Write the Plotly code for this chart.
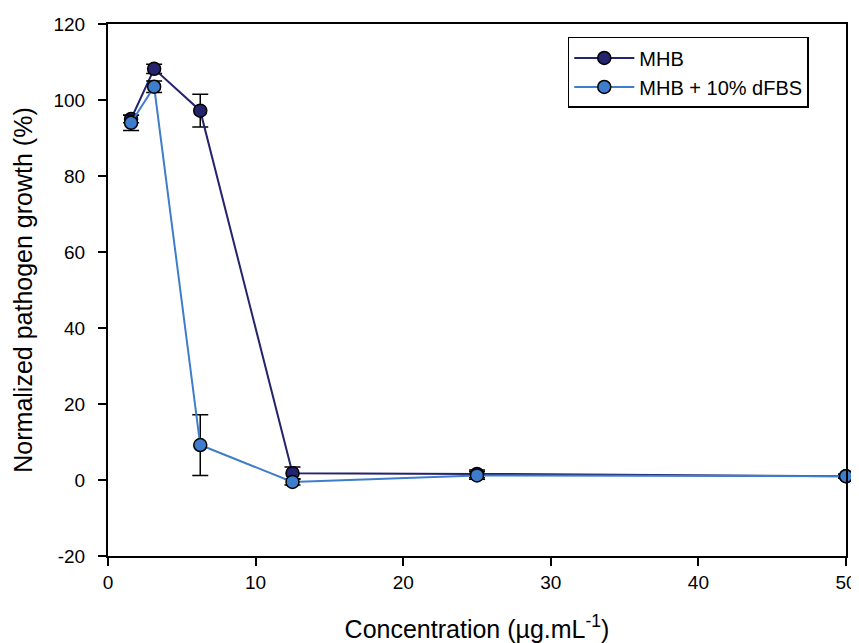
import plotly.graph_objects as go

concentracion = [1.5625, 3.125, 6.25, 12.5, 25, 50]

mhb = [95.0, 108.2, 97.2, 1.8, 1.6, 1.0]
mhb_err = [1.0, 1.2, 4.3, 1.6, 1.0, 0.5]

dfbs = [94.0, 103.5, 9.2, -0.5, 1.2, 1.0]
dfbs_err = [2.0, 1.5, 8.0, 0.8, 1.0, 0.5]

ticks_x = [0, 10, 20, 30, 40, 50]
ticks_y = [-20, 0, 20, 40, 60, 80, 100, 120]

COLOR_MHB = "#23236e"
COLOR_DFBS = "#3d7dcc"
FUENTE = "Liberation Sans, Arial, sans-serif"

# la página deja 8 px de margen en el body, se descuentan aquí
fig = go.Figure()
for nombre, y, err, color in [
    ("MHB", mhb, mhb_err, COLOR_MHB),
    ("MHB + 10% dFBS", dfbs, dfbs_err, COLOR_DFBS),
]:
    fig.add_trace(
        go.Scatter(
            x=concentracion,
            y=y,
            name=nombre,
            mode="lines+markers",
            line=dict(color=color, width=2),
            marker=dict(color=color, size=13, line=dict(color="black", width=1.5)),
            error_y=dict(type="data", array=err, visible=True,
                         color="black", thickness=1.5, width=8),
            cliponaxis=False,
        )
    )

eje = dict(
    showline=True,
    linecolor="black",
    linewidth=2,
    mirror=True,
    ticks="outside",
    ticklen=8,
    tickwidth=1.5,
    tickcolor="black",
    showgrid=False,
    zeroline=False,
    automargin=False,
    tickfont=dict(size=19, color="black", family=FUENTE),
)

fig.update_layout(
    width=851,
    height=635,
    margin=dict(l=100, r=13, t=16, b=87),
    plot_bgcolor="white",
    paper_bgcolor="white",
    font=dict(family=FUENTE, color="black"),
    showlegend=True,
    legend=dict(
        x=0.623, y=0.9756, xanchor="left", yanchor="top",
        bordercolor="black", borderwidth=1.5,
        font=dict(size=20, family=FUENTE, color="black"),
        bgcolor="white",
        itemwidth=60,
    ),
    xaxis=dict(
        eje,
        range=[0, 50],
        tickvals=ticks_x,
        ticktext=[str(t) for t in ticks_x],
        title=dict(text="Concentration (µg.mL<sup>-1</sup>)",
                   font=dict(size=25, family=FUENTE), standoff=30),
    ),
    yaxis=dict(
        eje,
        range=[-20, 120],
        tickvals=ticks_y,
        ticktext=[str(t) for t in ticks_y],
        ticklabelstandoff=9,
        title=dict(text="Normalized pathogen growth (%)",
                   font=dict(size=25, family=FUENTE), standoff=14),
    ),
)

fig.write_html("out.html")
